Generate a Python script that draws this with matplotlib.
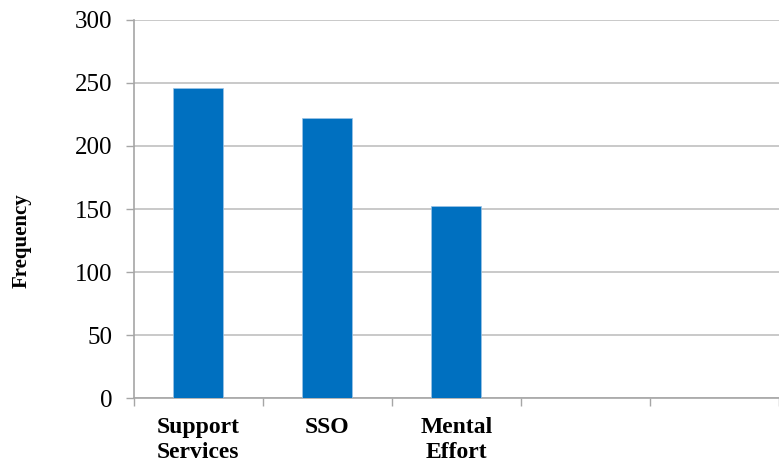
import matplotlib.pyplot as plt
import numpy as np

# category slots along the x axis (the last two are left empty)
categories = ["Support\nServices", "SSO", "Mental\nEffort", "", ""]
frequency = [246, 222, 152]
y_ticks = [0, 50, 100, 150, 200, 250, 300]

plt.rcParams["font.family"] = ["Liberation Serif", "DejaVu Serif"]

fig = plt.figure(figsize=(7.79, 4.66), dpi=100)
ax = fig.add_axes([0.1714, 0.1459, 0.8286, 0.8112])

x = np.arange(len(frequency))
ax.bar(x, frequency, width=0.39, color="#0070C0", edgecolor="#9cc3e6",
       linewidth=0.5, zorder=3)

ax.set_xlim(-0.5, len(categories) - 0.5)
ax.set_ylim(0, 300)
ax.set_yticks(y_ticks)

# ticks sit between categories, labels sit under them
ax.set_xticks(np.arange(len(categories) + 1) - 0.5)
ax.set_xticklabels([])
ax.set_xticks(np.arange(len(categories)), minor=True)
ax.set_xticklabels(categories, minor=True, fontsize=17, fontweight="bold")
ax.tick_params(axis="x", which="minor", length=0, pad=14)
ax.tick_params(axis="x", which="major", length=6, width=1, color="#a6a6a6")
ax.tick_params(axis="y", length=6, width=1, color="#a6a6a6", pad=9,
               labelsize=18)

ax.grid(axis="y", color="#c0c0c0", linewidth=1.2, zorder=0)
for s in ["top", "right"]:
    ax.spines[s].set_visible(False)
for s in ["left", "bottom"]:
    ax.spines[s].set_color("#a6a6a6")
    ax.spines[s].set_linewidth(1.2)

fig.text(0.028, 0.483, "Frequency", rotation=90, ha="center", va="center",
         fontsize=15, fontweight="bold")

fig.savefig("out.png", dpi=100)
